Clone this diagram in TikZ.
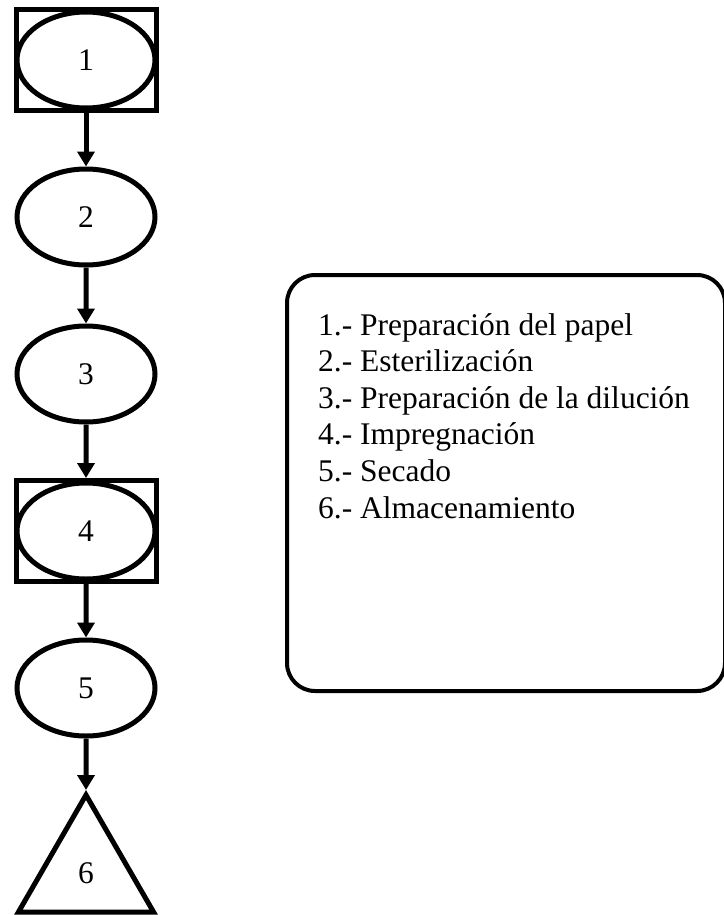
\documentclass[tikz,border=0pt]{standalone}
\usepackage{fontspec}
\setmainfont{Liberation Serif}
\usetikzlibrary{arrows.meta, shapes.geometric, positioning}

\begin{document}
\begin{tikzpicture}
[x=1pt, y=1pt,
  every node/.style={font=\fontsize{31.5}{36.6}\selectfont},
  proc/.style={draw, ellipse, line width=5pt, minimum width=138pt, minimum height=96pt, inner sep=0pt},
  boxed/.style={draw, rectangle, line width=5pt, minimum width=140pt, minimum height=101pt, inner sep=0pt,
    path picture={\draw[line width=5pt] (path picture bounding box.center) ellipse (69pt and 48pt);}},
  store/.style={draw, regular polygon, regular polygon sides=3, line width=5pt, minimum size=156pt, inner sep=0pt},
  legend/.style={draw, rounded corners=28pt, line width=4pt, minimum width=438pt, minimum height=416pt},
  steps/.style={align=left, inner sep=0pt, anchor=north west},
  edge from parent/.style={->, draw, line width=5pt},
  level distance=157pt,
  >={Triangle[width=17pt,length=15pt]}]

\useasboundingbox (0,0) rectangle (723,-915);

% process chain
\node[boxed] (p1) at (86,-60) {1}
  child {
    node[proc] (p2) {2}
    child {
      node[proc] (p3) {3}
      child {
        node[boxed] (p4) {4}
        child {
          node[proc] (p5) {5}
          child[level distance=185pt] {
            node[store] (p6) {6}
          }
        }
      }
    }
  };

% key
\node[legend] (key) at (506,-483) {};
\node[steps] (keytext) at (318,-313) {1.- Preparación del papel\\
2.- Esterilización\\
3.- Preparación de la dilución\\
4.- Impregnación\\
5.- Secado\\
6.- Almacenamiento};

\end{tikzpicture}
\end{document}
